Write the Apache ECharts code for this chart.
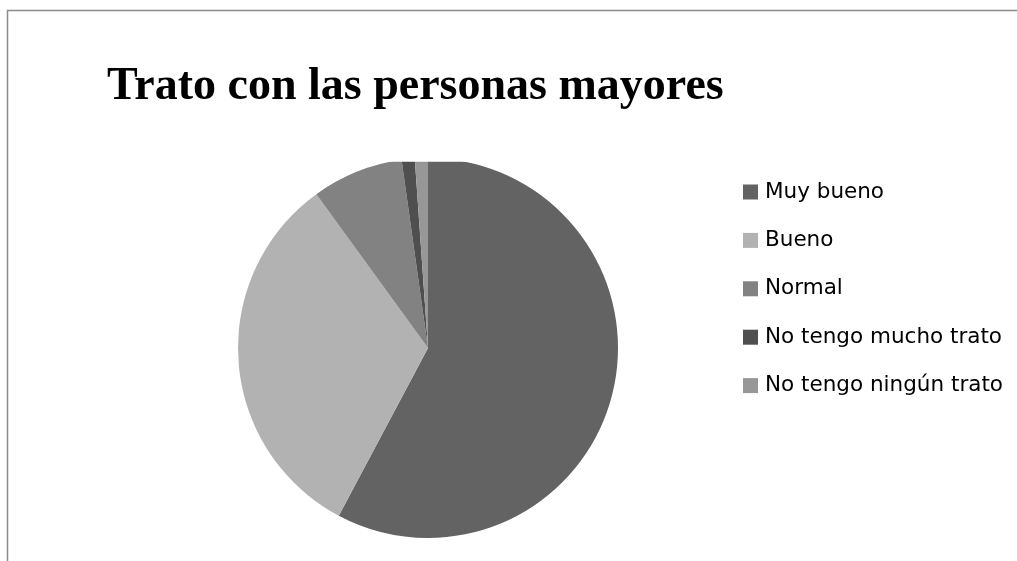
<!DOCTYPE html>
<html>
<head>
<meta charset="utf-8">
<script src="https://cdn.jsdelivr.net/npm/echarts@6/dist/echarts.min.js"></script>
<style>
html,body{margin:0;padding:0;background:#fff;}
#chart{width:1017px;height:561px;}
</style>
</head>
<body>
<div id="chart"></div>
<script>
const titleText = 'Trato con las personas mayores';
const categories = ['Muy bueno', 'Bueno', 'Normal', 'No tengo mucho trato', 'No tengo ningún trato'];
const values = [52, 29, 7, 1, 1];
const colors = ['#636363', '#b2b2b2', '#828282', '#4f4f4f', '#979797'];

const chart = echarts.init(document.getElementById('chart'), null, {renderer: 'canvas'});
const option = {
  animation: false,
  backgroundColor: '#ffffff',
  title: {
    text: titleText,
    left: 107,
    top: 64,
    padding: 0,
    textStyle: {
      fontFamily: 'Liberation Serif',
      fontWeight: 'bold',
      fontSize: 46,
      color: '#000000'
    }
  },
  legend: {
    orient: 'vertical',
    left: 743,
    top: 179,
    padding: 0,
    icon: 'rect',
    itemWidth: 15,
    itemHeight: 15,
    itemGap: 22.4,
    selectedMode: false,
    data: categories,
    textStyle: {
      fontFamily: 'DejaVu Sans',
      fontSize: 21.5,
      lineHeight: 22,
      color: '#000000',
      padding: [4, 0, 0, 2]
    }
  },
  graphic: [
    {
      type: 'rect',
      z: 100,
      silent: true,
      shape: {x: 300, y: 130, width: 260, height: 31.7},
      style: {fill: '#ffffff'}
    },
    {
      type: 'rect',
      z: 101,
      silent: true,
      shape: {x: 7.5, y: 10.5, width: 1200, height: 1000},
      style: {fill: null, stroke: '#8a8a8a', lineWidth: 1.5}
    }
  ],
  series: [{
    type: 'pie',
    center: [428, 348],
    radius: 190,
    startAngle: 90,
    clockwise: true,
    silent: true,
    label: {show: false},
    labelLine: {show: false},
    itemStyle: {borderWidth: 0},
    data: categories.map((c, i) => ({name: c, value: values[i], itemStyle: {color: colors[i]}}))
  }]
};
chart.setOption(option);
</script>
</body>
</html>
